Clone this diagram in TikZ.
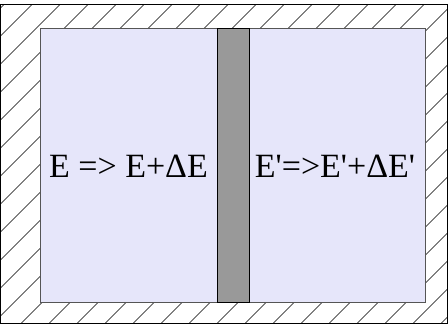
\documentclass[tikz,border=0pt]{standalone}
\usepackage{fontspec}
\setmainfont{Liberation Serif}
\definecolor{innerfill}{HTML}{E6E6FA}
\definecolor{barfill}{HTML}{999999}
\definecolor{edgegray}{HTML}{555555}
\begin{document}
\begin{tikzpicture}[x=1pt,y=1pt,
  hatchline/.style={line width=0.55pt,black},
  wallbox/.style={draw=black,line width=0.8pt},
  chamber/.style={fill=innerfill,draw=edgegray,line width=1pt},
  piston/.style={fill=barfill,draw=black,line width=0.8pt},
  energy/.style={font=\fontsize{34}{40}\selectfont,inner sep=0pt,anchor=base}]
\useasboundingbox (0,0) rectangle (448,325);
\fill[white] (0,0) rectangle (448,325);
\begin{scope}
  \clip (0.5,2) rectangle (447.5,321);
  \foreach \k in {-2,...,28} {
    \draw[hatchline] (-10,{288.4-28*\k-10}) -- (460,{288.4-28*\k+460});
  }
\end{scope}
\draw[wallbox] (0.5,2) rectangle (447.5,321);
\node[chamber,minimum width=385pt,minimum height=274pt,inner sep=0pt] (gas) at (232.5,160) {};
\node[piston,minimum width=32pt,minimum height=274pt,inner sep=0pt] (bar) at (233,160) {};
\node[energy] (left) at (128.5,148) {E => E+ΔE};
\node[energy] (right) at (335,148) {E\textquotesingle=>E\textquotesingle+ΔE\textquotesingle};
\end{tikzpicture}
\end{document}
